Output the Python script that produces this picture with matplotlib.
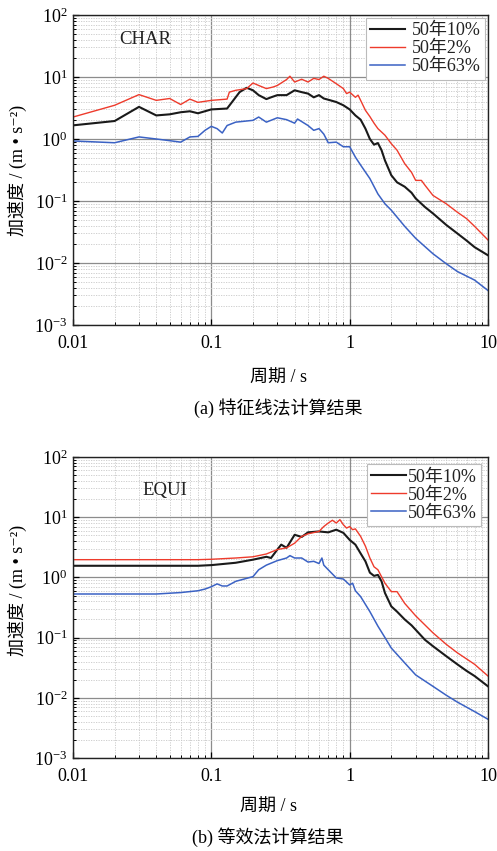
import matplotlib
matplotlib.use("Agg")
import matplotlib.pyplot as plt
from matplotlib.ticker import LogLocator, LogFormatterMathtext, NullFormatter, FixedLocator, FixedFormatter

plt.rcParams['font.family'] = ['Liberation Serif', 'Noto Sans CJK SC', 'DejaVu Serif']
plt.rcParams['mathtext.fontset'] = 'custom'
plt.rcParams['mathtext.rm'] = 'Liberation Serif'
plt.rcParams['mathtext.it'] = 'Liberation Serif:italic'
plt.rcParams['mathtext.bf'] = 'Liberation Serif:bold'

labels = ['50年10%', '50年2%', '50年63%']
colors = ['#1a1a1a', '#ee3b2c', '#3b62c4']
widths = [1.5, 1.0, 1.1]

# ---------------- (a) CHAR ----------------
char_T10 = [0.01, 0.02, 0.03, 0.04, 0.05, 0.06, 0.07, 0.08, 0.1, 0.13, 0.16, 0.18, 0.2, 0.22, 0.25,
            0.27, 0.3, 0.35, 0.4, 0.45, 0.5, 0.55, 0.6, 0.65, 0.7, 0.8, 0.9, 1.0, 1.1, 1.2, 1.3,
            1.4, 1.5, 1.6, 1.7, 1.8, 2.0, 2.2, 2.5, 2.8, 3.0, 3.5, 4, 5, 6, 7, 8, 10]
char_A10 = [1.66, 1.95, 3.3, 2.4, 2.5, 2.7, 2.8, 2.6, 3.0, 3.1, 5.7, 6.7, 6.1, 5.1, 4.4,
            4.7, 5.1, 5.1, 6.1, 5.7, 5.4, 4.7, 5.1, 4.5, 4.3, 3.95, 3.5, 3.0, 2.4, 2.05, 1.47,
            1.0, 0.81, 0.86, 0.66, 0.45, 0.26, 0.2, 0.17, 0.136, 0.11, 0.08, 0.063, 0.041, 0.03,
            0.023, 0.018, 0.0133]

char_T2 = [0.01, 0.02, 0.03, 0.04, 0.05, 0.06, 0.07, 0.08, 0.1, 0.13, 0.135, 0.15, 0.18, 0.2, 0.22,
           0.25, 0.28, 0.3, 0.35, 0.37, 0.4, 0.45, 0.5, 0.55, 0.6, 0.65, 0.7, 0.8, 0.9, 0.95, 1.0,
           1.1, 1.15, 1.2, 1.3, 1.4, 1.5, 1.6, 1.8, 2.0, 2.2, 2.5, 2.8, 3.0, 3.3, 3.5, 4, 5, 6,
           7, 8, 10]
char_A2 = [2.26, 3.5, 5.2, 4.2, 4.5, 3.6, 4.4, 3.9, 4.2, 4.4, 5.7, 6.1, 6.5, 8.0, 7.3,
           6.5, 6.9, 7.3, 9.1, 10.3, 8.3, 9.2, 8.3, 9.5, 9.1, 10.3, 9.5, 7.8, 6.5, 5.4, 5.7,
           4.7, 5.1, 4.2, 2.9, 2.3, 1.8, 1.47, 1.15, 0.84, 0.66, 0.4, 0.29, 0.215, 0.215, 0.18,
           0.123, 0.09, 0.066, 0.052, 0.039, 0.0235]

char_T63 = [0.01, 0.02, 0.03, 0.04, 0.05, 0.06, 0.07, 0.08, 0.09, 0.1, 0.11, 0.12, 0.13, 0.15, 0.2,
            0.22, 0.25, 0.3, 0.35, 0.4, 0.42, 0.5, 0.55, 0.6, 0.65, 0.7, 0.8, 0.9, 1.0, 1.1, 1.2,
            1.4, 1.6, 1.8, 2.0, 2.5, 3, 4, 5, 6, 8, 10]
char_A63 = [0.93, 0.87, 1.08, 1.0, 0.94, 0.89, 1.08, 1.1, 1.38, 1.6, 1.47, 1.25, 1.65, 1.87, 2.0,
            2.26, 1.87, 2.2, 2.05, 1.8, 2.1, 1.65, 1.38, 1.47, 1.2, 0.87, 0.89, 0.75, 0.75, 0.51,
            0.38, 0.23, 0.13, 0.09, 0.071, 0.039, 0.025, 0.0141, 0.0097, 0.0073, 0.0053, 0.0036]

# ---------------- (b) EQUI ----------------
equi_T10 = [0.01, 0.08, 0.1, 0.15, 0.2, 0.25, 0.27, 0.3, 0.32, 0.35, 0.4, 0.45, 0.5, 0.6, 0.7,
            0.8, 0.9, 1.0, 1.1, 1.2, 1.3, 1.4, 1.5, 1.6, 1.7, 1.8, 2.0, 2.2, 2.5, 2.8, 3.0, 3.5,
            4, 5, 6, 7, 8, 10]
equi_A10 = [1.56, 1.56, 1.6, 1.75, 1.97, 2.2, 2.1, 2.9, 3.5, 3.1, 5.1, 4.7, 5.6, 5.8, 5.6,
            6.2, 5.5, 4.2, 3.5, 2.5, 1.85, 1.2, 1.06, 1.1, 0.86, 0.55, 0.33, 0.27, 0.2, 0.16,
            0.135, 0.092, 0.072, 0.049, 0.036, 0.028, 0.023, 0.0155]

equi_T2 = [0.01, 0.08, 0.1, 0.15, 0.2, 0.25, 0.3, 0.35, 0.4, 0.45, 0.5, 0.6, 0.65, 0.7, 0.75,
           0.8, 0.85, 0.9, 0.95, 1.0, 1.05, 1.1, 1.2, 1.3, 1.4, 1.5, 1.6, 1.8, 2.0, 2.2, 2.5,
           3, 4, 5, 6, 8, 10]
equi_A2 = [1.97, 1.97, 2.0, 2.1, 2.2, 2.45, 2.9, 3.1, 3.7, 4.8, 5.3, 5.8, 7.0, 8.0, 8.9,
           8.0, 9.1, 7.5, 6.6, 7.0, 6.2, 6.4, 4.8, 3.3, 2.1, 1.5, 1.34, 0.8, 0.58, 0.58, 0.37,
           0.23, 0.12, 0.077, 0.056, 0.036, 0.023]

equi_T63 = [0.01, 0.04, 0.06, 0.08, 0.09, 0.1, 0.11, 0.12, 0.13, 0.15, 0.2, 0.22, 0.25, 0.3, 0.35,
            0.37, 0.4, 0.45, 0.5, 0.55, 0.6, 0.63, 0.65, 0.7, 0.8, 0.9, 1.0, 1.05, 1.1, 1.2,
            1.4, 1.6, 1.8, 2.0, 2.5, 3, 4, 5, 6, 8, 10]
equi_A63 = [0.53, 0.53, 0.56, 0.6, 0.64, 0.7, 0.78, 0.72, 0.72, 0.86, 1.03, 1.34, 1.6, 1.9, 2.1,
            2.3, 2.1, 2.1, 1.8, 1.85, 1.7, 2.1, 1.6, 1.34, 0.98, 0.94, 0.75, 0.8, 0.6, 0.48,
            0.27, 0.155, 0.1, 0.067, 0.038, 0.024, 0.0155, 0.011, 0.0085, 0.0059, 0.0044]

x_ticks = [0.01, 0.1, 1, 10]
x_ticklabels = ['0.01', '0.1', '1', '10']

fig = plt.figure(figsize=(4.97, 8.51), dpi=100)
ax1 = fig.add_axes([73/497, 1-325/851, 415/497, 310/851])
ax2 = fig.add_axes([73/497, 1-758/851, 415/497, 301/851])

panels = [
    (ax1, [(char_T10, char_A10), (char_T2, char_A2), (char_T63, char_A63)], 'CHAR', (0.173, 0.92)),
    (ax2, [(equi_T10, equi_A10), (equi_T2, equi_A2), (equi_T63, equi_A63)], 'EQUI', (0.222, 0.89)),
]

for ax, series, name, pos in panels:
    for (T, A), lab, c, lw in zip(series, labels, colors, widths):
        ax.plot(T, A, color=c, lw=lw, label=lab)
    ax.set_xscale('log')
    ax.set_yscale('log')
    ax.set_xlim(0.01, 10)
    ax.set_ylim(1e-3, 1e2)
    ax.xaxis.set_major_locator(FixedLocator(x_ticks))
    ax.xaxis.set_major_formatter(FixedFormatter(x_ticklabels))
    ax.xaxis.set_minor_locator(LogLocator(base=10, subs=range(2, 10), numticks=20))
    ax.xaxis.set_minor_formatter(NullFormatter())
    ax.yaxis.set_major_locator(LogLocator(base=10, numticks=10))
    ax.yaxis.set_major_formatter(LogFormatterMathtext())
    ax.yaxis.set_minor_locator(LogLocator(base=10, subs=range(2, 10), numticks=20))
    ax.yaxis.set_minor_formatter(NullFormatter())
    ax.grid(which='major', color='#8c8c8c', lw=0.9, ls='-')
    ax.grid(which='minor', color='#c8c8c8', lw=0.6, ls=(0, (1.5, 1.5)))
    ax.set_axisbelow(True)
    ax.tick_params(which='both', direction='in', top=False, right=False, labelsize=13)
    ax.tick_params(axis='x', which='major', pad=7)
    ax.tick_params(axis='y', which='major', pad=4)
    ax.tick_params(which='major', length=4, width=0.9)
    ax.tick_params(which='minor', length=2.5, width=0.7)
    for sp in ax.spines.values():
        sp.set_color('#222222')
        sp.set_linewidth(1.0)
    ax.text(pos[0], pos[1], name, transform=ax.transAxes, ha='center', va='center',
            fontsize=13.5, color='#222222')
    leg = ax.legend(loc='upper right', fontsize=13, frameon=True, fancybox=False,
                    edgecolor='#bbbbbb', framealpha=1.0, borderpad=0.25, labelspacing=0.05,
                    handlelength=1.9, handletextpad=0.4 if ax is ax1 else 0.1,
                    borderaxespad=0.15 if ax is ax1 else 0.4)
    leg.get_frame().set_linewidth(0.8)
    for t in leg.get_texts():
        t.set_color('#222222')

fig.text(0.034, 1-170/851, '加速度 / (m • s⁻²)', rotation=90, ha='center', va='center', fontsize=13)
fig.text(0.034, 1-590/851, '加速度 / (m • s⁻²)', rotation=90, ha='center', va='center', fontsize=13)
fig.text(278/497, 1-378/851, '周期 / s', ha='center', va='center', fontsize=13)
fig.text(278/497, 1-408/851, '(a) 特征线法计算结果', ha='center', va='center', fontsize=13)
fig.text(268/497, 1-807/851, '周期 / s', ha='center', va='center', fontsize=13)
fig.text(268/497, 1-837/851, '(b) 等效法计算结果', ha='center', va='center', fontsize=13)

fig.savefig('out.png', dpi=100, facecolor='white')
